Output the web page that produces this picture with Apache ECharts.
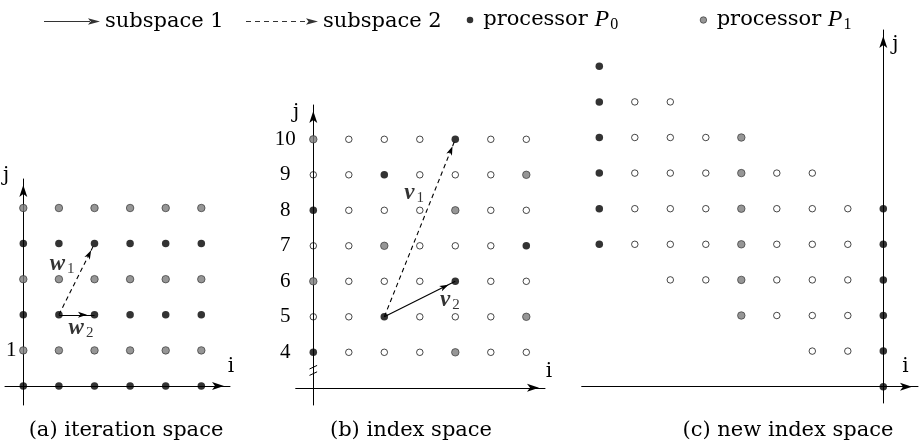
<!DOCTYPE html>
<html><head><meta charset="utf-8">
<script src="https://cdn.jsdelivr.net/npm/echarts@6/dist/echarts.min.js"></script>
<style>html,body{margin:0;padding:0;background:#fff}#c{width:919px;height:442px}</style>
</head><body><div id="c"></div>
<script>
// ================= DATA =================
// (a) iteration space : points [i, j]
const aP0 = [[0,0],[1,0],[2,0],[3,0],[4,0],[5,0],
             [0,2],[1,2],[2,2],[3,2],[4,2],[5,2],
             [0,4],[1,4],[2,4],[3,4],[4,4],[5,4]];
const aP1 = [[0,1],[1,1],[2,1],[3,1],[4,1],[5,1],
             [0,3],[1,3],[2,3],[3,3],[4,3],[5,3],
             [0,5],[1,5],[2,5],[3,5],[4,5],[5,5]];
const aSub1 = [[[1,2],[2,2]]];          // w2
const aSub2 = [[[1,2],[2,4]]];          // w1
const aYTicks = [1];
const aVecLabels = [{name:'w', sub:'1', at:[1.09,3.43]}, {name:'w', sub:'2', at:[1.62,1.63]}];

// (b) index space
const bP0 = [[4,10],[2,9],[0,8],[6,7],[4,6],[2,5],[0,4]];
const bP1 = [[0,10],[6,9],[4,8],[2,7],[0,6],[6,5],[4,4]];
const bOpen = [[1,10],[2,10],[3,10],[5,10],[6,10],
               [0,9],[1,9],[3,9],[4,9],[5,9],
               [1,8],[2,8],[3,8],[5,8],[6,8],
               [0,7],[1,7],[3,7],[4,7],[5,7],
               [1,6],[2,6],[3,6],[5,6],[6,6],
               [0,5],[1,5],[3,5],[4,5],[5,5],
               [1,4],[2,4],[3,4],[5,4],[6,4]];
const bSub1 = [[[2,5],[4,6]]];          // v2
const bSub2 = [[[2,5],[4,10]]];         // v1
const bYTicks = [4,5,6,7,8,9,10];
const bVecLabels = [{name:'v', sub:'1', at:[2.84,8.49]}, {name:'v', sub:'2', at:[3.85,5.47]}];

// (c) new index space
const cP0 = [[-8,9],[-8,8],[-8,7],[-8,6],[-8,5],[-8,4],
             [0,5],[0,4],[0,3],[0,2],[0,1],[0,0]];
const cP1 = [[-4,7],[-4,6],[-4,5],[-4,4],[-4,3],[-4,2]];
const cOpen = [[-7,8],[-6,8],
               [-7,7],[-6,7],[-5,7],
               [-7,6],[-6,6],[-5,6],[-3,6],[-2,6],
               [-7,5],[-6,5],[-5,5],[-3,5],[-2,5],[-1,5],
               [-7,4],[-6,4],[-5,4],[-3,4],[-2,4],[-1,4],
               [-6,3],[-5,3],[-3,3],[-2,3],[-1,3],
               [-3,2],[-2,2],[-1,2],
               [-2,1],[-1,1]];

const captions = ['(a) iteration space', '(b) index space', '(c) new index space'];
const legendNames = ['subspace 1', 'subspace 2', 'processor P0', 'processor P1'];

// ================= LAYOUT / STYLE =================
const W = 919, H = 442;
const SERIF = 'DejaVu Serif';
const MATH = 'Liberation Serif';
function frame(L) {
  return {
    L: L,
    grid: {left: L.l, right: W - L.r, top: L.t, bottom: H - L.b, outerBoundsMode: 'none'},
    xMin: L.vx + (L.l - L.ox) / L.sx, xMax: L.vx + (L.r - L.ox) / L.sx,
    yMin: L.vy - (L.b - L.oy) / L.sy, yMax: L.vy + (L.oy - L.t) / L.sy
  };
}
const FA = frame({ox:23.3, vx:0, oy:386, vy:0, sx:35.6, sy:35.6, l:5, r:230, t:179, b:405});
const FB = frame({ox:313.3, vx:0, oy:352.3, vy:4, sx:35.5, sy:35.5, l:295.7, r:545, t:105, b:405});
const FC = frame({ox:883.3, vx:0, oy:386.7, vy:0, sx:35.5, sy:35.6, l:581.7, r:918, t:30, b:403});

const axisLineStyle = {show: true, lineStyle: {color: '#000', width: 1},
  symbol: ['none', 'arrow'], symbolSize: [6, 12], symbolOffset: [0, -6]};
const nameStyleBase = {fontFamily: SERIF, fontSize: 20, color: '#000'};

function xAxis(F, idx, nameGap, dy, extra) {
  return Object.assign({
    type: 'value', gridIndex: idx, min: F.xMin, max: F.xMax,
    axisLine: Object.assign({}, axisLineStyle, {onZero: true}),
    axisTick: {show: false}, splitLine: {show: false}, axisLabel: {show: false},
    name: 'i', nameLocation: 'end', nameGap: nameGap,
    nameTextStyle: Object.assign({}, nameStyleBase, {align: 'center', verticalAlign: 'bottom', lineHeight: 2 * dy})
  }, extra || {});
}
function yAxis(F, idx, nameGap, align, pad, ticks, margin, boxW) {
  const ax = {
    type: 'value', gridIndex: idx, min: F.yMin, max: F.yMax,
    axisLine: Object.assign({}, axisLineStyle, {onZero: true}),
    axisTick: {show: false}, splitLine: {show: false},
    axisLabel: {show: false},
    name: 'j', nameLocation: 'end', nameGap: nameGap,
    nameTextStyle: Object.assign({}, nameStyleBase, {align: align, verticalAlign: 'middle',
      padding: align === 'right' ? [0, pad, 0, 0] : [0, 0, 0, pad]})
  };
  if (ticks) {
    // place the j axis at i = 0 explicitly (grid left edge + offset) so line and labels move together
    ax.axisLine.onZero = false;
    ax.position = 'left';
    ax.offset = -(F.L.ox - F.L.l);
    ax.axisLabel = {show: true, customValues: ticks, formatter: v => '{t|' + v + '}',
      align: 'right', margin: margin,
      rich: {t: {fontFamily: MATH, fontSize: 21, color: '#000', width: boxW, align: 'center'}},
      showMinLabel: true, showMaxLabel: true, hideOverlap: false};
  }
  return ax;
}

const P0Style = {color: '#000'};
const P1Style = {color: '#7c7c7c', borderColor: '#2b2b2b', borderWidth: 0.8};
const openStyle = {color: 'rgba(255,255,255,0)', borderColor: '#000', borderWidth: 0.9};

function pts(name, data, idx, style, size) {
  return {type: 'scatter', name: name, xAxisIndex: idx, yAxisIndex: idx, data: data,
    symbol: 'circle', symbolSize: size, itemStyle: style, z: 10, silent: true};
}
function vectors(name, segs, idx, dashed) {
  return {type: 'scatter', name: name, xAxisIndex: idx, yAxisIndex: idx, data: [],
    itemStyle: {color: '#000'}, z: 3,
    markLine: {silent: true, animation: false, symbol: ['none', 'arrow'],
      symbolSize: [4.5, 9], symbolOffset: [[0, 0], [0, 7.5]],
      label: {show: false}, emphasis: {disabled: true},
      itemStyle: {color: '#000'},
      lineStyle: {color: '#000', width: 1.1, type: dashed ? [4.5, 3.5] : 'solid', opacity: 1},
      data: segs.map(s => [{coord: s[0]}, {coord: s[1]}])}};
}
const vecRich = {
  v: {fontFamily: MATH, fontStyle: 'italic', fontWeight: 'bold', fontSize: 23, color: '#000', verticalAlign: 'middle'},
  s: {fontFamily: MATH, fontSize: 15, color: '#000', verticalAlign: 'middle', padding: [10, 0, 0, 2]}
};
function vecLabels(list, idx) {
  return {type: 'scatter', name: 'vector names', xAxisIndex: idx, yAxisIndex: idx, symbolSize: 0, silent: true, z: 12,
    data: list.map(o => ({value: o.at, label: {formatter: '{v|' + o.name + '}{s|' + o.sub + '}'}})),
    label: {show: true, position: 'inside', rich: vecRich}};
}

// legend icons
const solidIcon = 'path://M0,3.5L47,3.5L47,4.5L0,4.5Z M56,4L44,0.8L46.5,4L44,7.2Z';
let dashPath = '';
for (let x = 0; x < 58; x += 9) dashPath += 'M' + x + ',3.5L' + Math.min(x + 5, 60) + ',3.5L' + Math.min(x + 5, 60) + ',4.5L' + x + ',4.5Z ';
const dashIcon = 'path://' + dashPath + 'M72,4L60,0.8L62.5,4L60,7.2Z';

const legendText = {fontFamily: SERIF, fontSize: 21, color: '#000',
  rich: {t: {fontFamily: SERIF, fontSize: 21, color: '#000', verticalAlign: 'middle'},
         p: {fontFamily: MATH, fontStyle: 'italic', fontSize: 24, color: '#000', verticalAlign: 'middle'},
         s: {fontFamily: MATH, fontSize: 16, color: '#000', verticalAlign: 'middle', padding: [10, 0, 0, 1]}}};
const legendFmt = n => n.startsWith('processor') ? '{t|processor }{p|P}{s|' + n.slice(-1) + '}' : n;
function leg(name, icon, left, top, w, h, iconStyle, extraText) {
  return {data: [{name: name, icon: icon, itemStyle: iconStyle}], left: left, top: top, itemWidth: w, itemHeight: h,
    padding: 0, itemGap: 0, selectedMode: false, formatter: legendFmt,
    textStyle: Object.assign({}, legendText, extraText || {})};
}

const titleStyle = {fontFamily: SERIF, fontSize: 21, fontWeight: 'normal', color: '#000'};

const option = {
  backgroundColor: '#fff',
  animation: false,
  grid: [FA.grid, FB.grid, FC.grid],
  xAxis: [
    xAxis(FA, 0, 1, 19.5),
    xAxis(FB, 1, 4, 16, {axisLine: Object.assign({}, axisLineStyle, {onZero: false}), position: 'bottom', offset: -(405 - 387.8)}),
    xAxis(FC, 2, -12.5, 20)
  ],
  yAxis: [
    yAxis(FA, 0, 3, 'right', 14, aYTicks, 6, 12),
    yAxis(FB, 1, -8, 'right', 14, bYTicks, 16, 24),
    yAxis(FC, 2, -15, 'left', 9)
  ],
  title: [
    {text: captions[0], left: 126, textAlign: 'center', top: 420, padding: 0, textStyle: titleStyle},
    {text: captions[1], left: 411, textAlign: 'center', top: 420, padding: 0, textStyle: titleStyle},
    {text: captions[2], left: 788, textAlign: 'center', top: 420, padding: 0, textStyle: titleStyle}
  ],
  legend: [
    leg(legendNames[0], solidIcon, 44, 11, 56, 8, {color: '#000', borderWidth: 0}),
    leg(legendNames[1], dashIcon, 246, 11, 72, 8, {color: '#000', borderWidth: 0}),
    leg(legendNames[2], 'circle', 466.75, 8, 6.5, 6.5, {color: '#000', borderWidth: 0}, {padding: [0, 0, 0, 5]}),
    leg(legendNames[3], 'circle', 699.75, 8, 6.5, 6.5, {color: '#7c7c7c', borderColor: '#2b2b2b', borderWidth: 0.8}, {padding: [0, 0, 0, 5]})
  ],
  series: [
    vectors(legendNames[0], aSub1, 0, false),
    vectors(legendNames[1], aSub2, 0, true),
    vectors(legendNames[0], bSub1, 1, false),
    vectors(legendNames[1], bSub2, 1, true),
    pts(legendNames[2], aP0, 0, P0Style, 7.5),
    pts(legendNames[3], aP1, 0, P1Style, 7.5),
    pts(legendNames[2], bP0, 1, P0Style, 7.5),
    pts(legendNames[3], bP1, 1, P1Style, 7.5),
    pts('open', bOpen, 1, openStyle, 6.5),
    pts(legendNames[2], cP0, 2, P0Style, 7.5),
    pts(legendNames[3], cP1, 2, P1Style, 7.5),
    pts('open', cOpen, 2, openStyle, 6.5),
    vecLabels(aVecLabels, 0),
    vecLabels(bVecLabels, 1)
  ]
};

const chart = echarts.init(document.getElementById('c'), null, {renderer: 'canvas'});
chart.setOption(option);

// axis break marks on the j axis of panel (b)
const brk1 = chart.convertToPixel({gridIndex: 1}, [0, 3.58]);
const brk2 = chart.convertToPixel({gridIndex: 1}, [0, 3.40]);
chart.setOption({graphic: [brk1, brk2].map(p => ({type: 'line', silent: true,
  shape: {x1: p[0] - 3.8, y1: p[1] + 1.8, x2: p[0] + 3.8, y2: p[1] - 1.8},
  style: {stroke: '#000', lineWidth: 1}}))});
</script></body></html>
